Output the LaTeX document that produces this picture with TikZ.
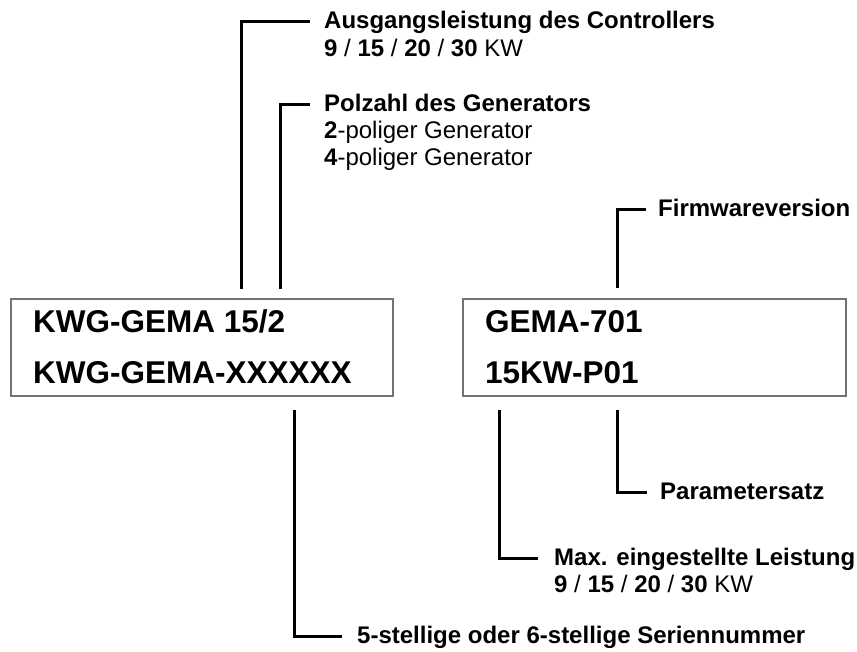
\documentclass[tikz,border=0pt]{standalone}
\usepackage{fontspec}
\setmainfont{Liberation Sans}
\tikzset{
  lab/.style={anchor=base west, inner sep=0pt, font=\fontsize{24}{28}\selectfont},
  boxtxt/.style={anchor=base west, inner sep=0pt, font=\fontsize{31.5}{36}\selectfont\bfseries},
  plate/.style={draw=black!55, line width=2pt, minimum height=97pt, inner sep=0pt},
  conn/.style={draw=black, line width=3pt},
}
\begin{document}
\begin{tikzpicture}[x=1pt,y=-1pt]
\useasboundingbox (0,0) rectangle (857,652);
% plates
\node[plate, minimum width=382pt] (bl) at (202,347.5) {};
\node[plate, minimum width=383pt] (br) at (654,347.5) {};
\node[boxtxt] (bl1) at (33,333) {KWG-GEMA 15/2};
\node[boxtxt] (bl2) at (33,383) {KWG-GEMA-XXXXXX};
\node[boxtxt] (br1) at (485,333) {GEMA-701};
\node[boxtxt] (br2) at (485,383) {15KW-P01};
% labels
\node[lab] (aus) at (324,29) {\textbf{Ausgangsleistung des Controllers}};
\node[lab] (aus2) at (324,57) {\textbf{9} / \textbf{15} / \textbf{20} / \textbf{30} KW};
\node[lab] (pol) at (324,112) {\textbf{Polzahl des Generators}};
\node[lab] (pol2) at (324,139) {\textbf{2}-poliger Generator};
\node[lab] (pol3) at (324,166) {\textbf{4}-poliger Generator};
\node[lab] (fw) at (658,217) {\textbf{Firmwareversion}};
\node[lab] (par) at (660,499.5) {\textbf{Parametersatz}};
\node[lab] (max) at (554,565) {\textbf{Max. eingestellte Leistung}};
\node[lab] (max2) at (554,592) {\textbf{9} / \textbf{15} / \textbf{20} / \textbf{30} KW};
\node[lab] (ser) at (357,643) {\textbf{5-stellige oder 6-stellige Seriennummer}};
% connector ends near the plates
\coordinate (ca) at (241.7,289);
\coordinate (cp) at (280,289);
\coordinate (cf) at (617,288);
\coordinate (cs) at (294,410);
\coordinate (cm) at (499,410);
\coordinate (cr) at (617.3,410);
% connectors
\draw[conn] (ca) |- ([shift={(-14pt,7pt)}]aus.base west);
\draw[conn] (cp) |- ([shift={(-14pt,7pt)}]pol.base west);
\draw[conn] (cf) |- ([shift={(-12pt,7pt)}]fw.base west);
\draw[conn] (cs) |- ([shift={(-15pt,7pt)}]ser.base west);
\draw[conn] (cm) |- ([shift={(-16pt,7pt)}]max.base west);
\draw[conn] (cr) |- ([shift={(-13pt,7pt)}]par.base west);
\end{tikzpicture}
\end{document}
